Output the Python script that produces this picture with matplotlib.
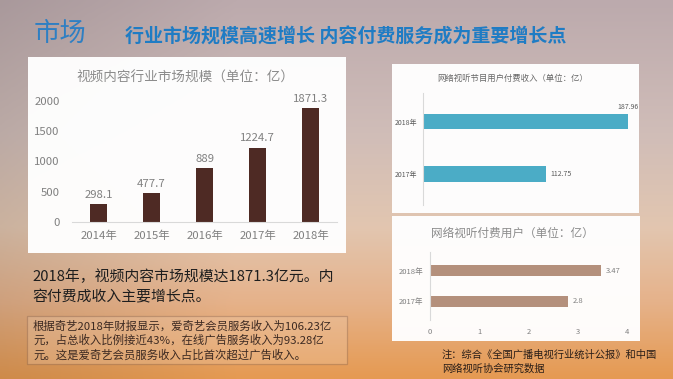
import numpy as np
import matplotlib
matplotlib.use('Agg')
import matplotlib.pyplot as plt
from matplotlib.patches import Rectangle
from matplotlib.colors import LinearSegmentedColormap

plt.rcParams['font.family'] = ['Noto Sans CJK SC', 'DejaVu Sans']

# 数据
years_market = ['2014年', '2015年', '2016年', '2017年', '2018年']
market_size = [298.1, 477.7, 889, 1224.7, 1871.3]

years_pay = ['2017年', '2018年']
pay_income = [112.75, 187.96]
pay_users = [2.8, 3.47]

W, H = 673, 379


def px_box(x0, y0, x1, y1):
    # 像素坐标 -> figure 比例 (left, bottom, width, height)
    return [x0 / W, 1 - y1 / H, (x1 - x0) / W, (y1 - y0) / H]


fig = plt.figure(figsize=(6.73, 3.79), dpi=100)

# 背景渐变
bg = fig.add_axes([0, 0, 1, 1], zorder=-10)
cmap = LinearSegmentedColormap.from_list('sunset', [
    (0.0, '#bcaaad'), (0.35, '#d0bdb8'), (0.6, '#e2c6b0'),
    (0.8, '#e6b28a'), (1.0, '#e59a52')])
yy = np.linspace(0, 1, 200)[:, None]
xx = np.linspace(0, 1, 300)[None, :]
grad = cmap(yy * np.ones_like(xx))
shade = 1 - 0.10 * np.clip(1 - xx / 0.35, 0, 1)
grad[..., :3] *= shade[..., None]
bg.imshow(grad, aspect='auto', extent=[0, 1, 0, 1])
bg.axis('off')

# 白色面板
for (x0, y0, x1, y1) in [(28, 57, 346, 253), (392, 64, 639, 213), (392, 216, 640, 341)]:
    fig.patches.append(Rectangle((x0 / W, 1 - y1 / H), (x1 - x0) / W, (y1 - y0) / H,
                                 transform=fig.transFigure, facecolor='white',
                                 edgecolor='none', alpha=0.97, zorder=-5))

# 标题
fig.text(34 / W, 1 - 33 / H, '市场', fontsize=19, color='#2e7fc3', fontweight='light',
         va='center', ha='left')
fig.text(125 / W, 1 - 37 / H, '行业市场规模高速增长 内容付费服务成为重要增长点',
         fontsize=13.7, color='#1f7cc4', fontweight='bold', va='center', ha='left')

gray = '#808080'

# 左图: 视频内容行业市场规模
ax1 = fig.add_axes(px_box(72, 94, 337, 222))
x = np.arange(len(years_market))
ax1.bar(x, market_size, width=0.32, color='#4e2a24')
ax1.set_xlim(-0.5, len(years_market) - 0.5)
ax1.set_ylim(0, 2110)
ax1.set_yticks([0, 500, 1000, 1500, 2000])
ax1.set_xticks(x)
ax1.set_xticklabels(years_market)
ax1.tick_params(length=0, labelsize=8.2, colors=gray, pad=6)
ax1.tick_params(axis='y', pad=9)
for s in ['top', 'right', 'left']:
    ax1.spines[s].set_visible(False)
ax1.spines['bottom'].set_color('#d9d9d9')
for xi, v in zip(x, market_size):
    ax1.text(xi, v + 70, f'{v:g}', ha='center', va='bottom', fontsize=8.2, color=gray)
ax1.patch.set_alpha(0)
fig.text(185 / W, 1 - 78 / H, '视频内容行业市场规模（单位：亿）', ha='center', va='center',
         fontsize=9.8, color='#8c8c8c')

# 右上: 网络视听节目用户付费收入
ax2 = fig.add_axes(px_box(423, 93, 633, 205))
y = np.arange(len(years_pay))
ax2.barh(y, pay_income, height=0.3, color='#4bacc6')
ax2.set_xlim(0, 193)
ax2.set_ylim(-0.6, 1.55)
ax2.set_yticks(y)
ax2.set_yticklabels(years_pay)
ax2.set_xticks([])
ax2.tick_params(length=0, labelsize=5, colors='#595959', pad=4)
for s in ['top', 'right', 'bottom']:
    ax2.spines[s].set_visible(False)
ax2.spines['left'].set_color('#d9d9d9')
ax2.text(pay_income[0] + 4, y[0], f'{pay_income[0]:g}', va='center', ha='left',
         fontsize=5, color='#595959')
ax2.text(pay_income[1], y[1] + 0.2, f'{pay_income[1]:g}', va='bottom', ha='center',
         fontsize=5, color='#595959')
ax2.patch.set_alpha(0)
fig.text(513 / W, 1 - 78 / H, '网络视听节目用户付费收入（单位：亿）', ha='center', va='center',
         fontsize=6, color='#666666')

# 右下: 网络视听付费用户
ax3 = fig.add_axes(px_box(430, 252, 627, 320))
ax3.barh(y, pay_users, height=0.35, color='#b4907c')
ax3.set_xlim(0, 4)
ax3.set_ylim(-0.6, 1.6)
ax3.set_yticks(y)
ax3.set_yticklabels(years_pay)
ax3.set_xticks([0, 1, 2, 3, 4])
ax3.tick_params(length=0, labelsize=5.5, colors=gray, pad=6)
ax3.tick_params(axis='y', pad=5)
for s in ['top', 'right', 'bottom']:
    ax3.spines[s].set_visible(False)
ax3.spines['left'].set_color('#d9d9d9')
for yi, v in zip(y, pay_users):
    ax3.text(v + 0.1, yi, f'{v:g}', va='center', ha='left', fontsize=5.5, color=gray)
ax3.patch.set_alpha(0)
fig.text(512 / W, 1 - 233 / H, '网络视听付费用户（单位：亿）', ha='center', va='center',
         fontsize=8.4, color='#8c8c8c')

# 文字说明
fig.text(32 / W, 1 - 277 / H, '2018年，视频内容市场规模达1871.3亿元。内',
         fontsize=10.7, color='#1e1e1e', va='center', ha='left')
fig.text(32 / W, 1 - 297 / H, '容付费成收入主要增长点。',
         fontsize=10.7, color='#1e1e1e', va='center', ha='left')

fig.patches.append(Rectangle((27 / W, 1 - 364 / H), 320 / W, 48 / H,
                             transform=fig.transFigure, facecolor='#f3d8c0', alpha=0.25,
                             edgecolor='#5a3a30', linewidth=0.9))
box_lines = ['根据奇艺2018年财报显示，爱奇艺会员服务收入为106.23亿',
             '元，占总收入比例接近43%，在线广告服务收入为93.28亿',
             '元。这是爱奇艺会员服务收入占比首次超过广告收入。']
for i, line in enumerate(box_lines):
    fig.text(33 / W, 1 - (326 + i * 14.5) / H, line, fontsize=8.2, color='#3d2a22',
             va='center', ha='left')

fig.text(442 / W, 1 - 355 / H, '注：综合《全国广播电视行业统计公报》和中国',
         fontsize=7.4, color='#2a1e18', va='center', ha='left')
fig.text(442 / W, 1 - 369 / H, '网络视听协会研究数据',
         fontsize=7.4, color='#2a1e18', va='center', ha='left')

fig.savefig('out.png', dpi=100)
